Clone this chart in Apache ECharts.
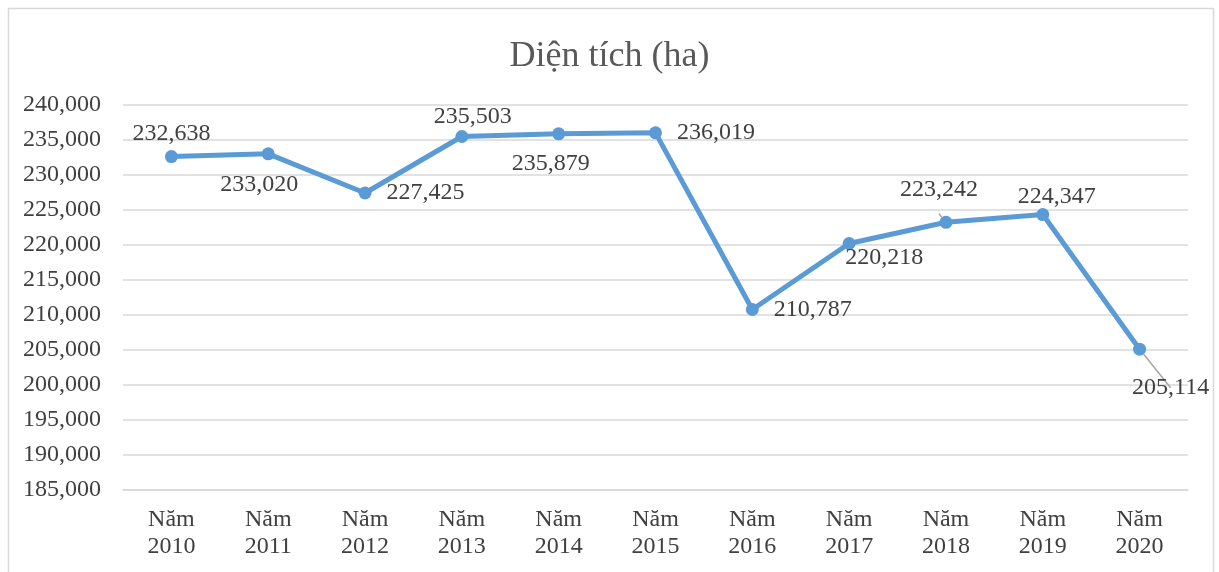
<!DOCTYPE html>
<html>
<head>
<meta charset="utf-8">
<script src="https://cdn.jsdelivr.net/npm/echarts@6/dist/echarts.min.js"></script>
<style>
  html, body { margin: 0; padding: 0; background: #fff; }
  #chart { width: 1219px; height: 572px; }
</style>
</head>
<body>
<div id="chart"></div>
<script>
const years = ['2010', '2011', '2012', '2013', '2014', '2015', '2016', '2017', '2018', '2019', '2020'];
const areaValues = [232638, 233020, 227425, 235503, 235879, 236019, 210787, 220218, 223242, 224347, 205114];
// where each data label sits
const labelPos = ['top', 'bottom', 'right', 'top', 'bottom', 'right', 'right', 'bottom', 'top', 'top', 'bottom'];
const labelShift = [[0, 1], [-9, 7], [10, 0], [11, 4], [-8, 6], [10, 0], [10, 0], [35, -9], [-7, -9], [14, 6], [31, 15]];
const withGuide = [8, 10];

const chart = echarts.init(document.getElementById('chart'));
const serif = '"Liberation Serif", "DejaVu Serif", serif';

chart.setOption({
  animation: false,
  backgroundColor: '#fff',
  textStyle: { fontFamily: serif },
  title: {
    text: 'Diện tích (ha)',
    left: 'center',
    top: 34,
    textStyle: { fontFamily: serif, fontSize: 36, fontWeight: 'normal', color: '#595959' }
  },
  graphic: [{
    type: 'rect',
    shape: { x: 8.5, y: 8.5, width: 1205, height: 580 },
    style: { fill: 'none', stroke: '#d9d9d9', lineWidth: 1.5 },
    silent: true
  }],
  grid: { left: 123, right: 31, top: 105, bottom: 82, containLabel: false },
  xAxis: {
    type: 'category',
    data: years.map(y => 'Năm\n' + y),
    axisLine: { lineStyle: { color: '#d9d9d9', width: 1.5 } },
    axisTick: { show: false },
    axisLabel: { fontFamily: serif, fontSize: 24, color: '#404040', lineHeight: 27, margin: 16 }
  },
  yAxis: {
    type: 'value',
    min: 185000,
    max: 240000,
    interval: 5000,
    axisLine: { show: false },
    axisTick: { show: false },
    splitLine: { lineStyle: { color: '#d9d9d9', width: 1.5 } },
    axisLabel: {
      fontFamily: serif, fontSize: 24, color: '#404040', margin: 22,
      formatter: v => v.toLocaleString('en-US')
    }
  },
  series: [{
    type: 'line',
    data: areaValues.map((v, i) => ({
      value: v,
      label: { position: labelPos[i], offset: labelShift[i] },
      labelLine: { show: withGuide.includes(i) }
    })),
    symbol: 'circle',
    symbolSize: 13,
    lineStyle: { color: '#5b9bd5', width: 5 },
    itemStyle: { color: '#5b9bd5' },
    label: {
      show: true,
      fontFamily: serif,
      fontSize: 24,
      color: '#404040',
      distance: 5,
      formatter: p => p.value.toLocaleString('en-US')
    },
    labelLine: { lineStyle: { color: '#a6a6a6', width: 1.5 } }
  }]
});
</script>
</body>
</html>
